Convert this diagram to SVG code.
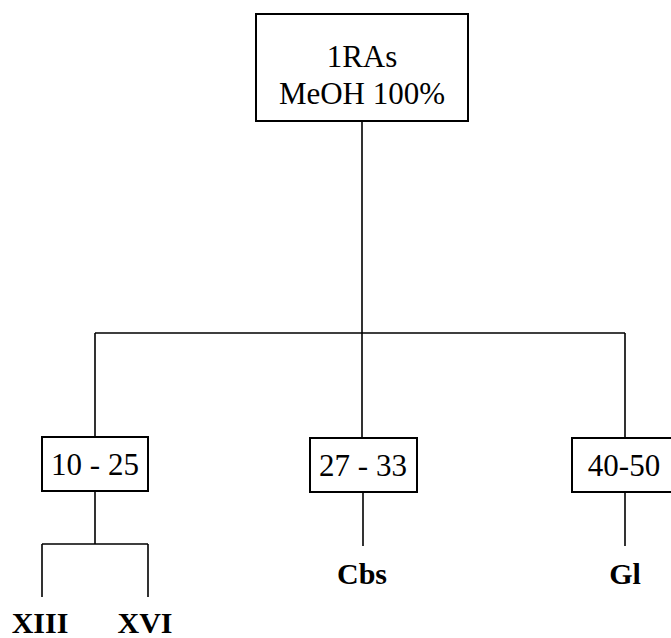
<svg xmlns="http://www.w3.org/2000/svg" width="671" height="638" viewBox="0 0 671 638">
<style>
.box{fill:#fff;stroke:#000;stroke-width:2}
.ln{fill:none;stroke:#000;stroke-width:1.6}
text{font-family:'Liberation Serif','Times New Roman',serif;font-size:31px;fill:#000;text-anchor:middle}
.b{font-weight:bold;font-size:30px}
</style>
<rect width="671" height="638" fill="#fff"/>
<g id="connectors">
<path class="ln" d="M362 121V333M95 333H625M95 333V437M362 333V438M625 333V438"/>
<path class="ln" d="M95 491V544M42 544H148M42 544V597M148 544V597"/>
<path class="ln" d="M363 492V546"/>
<path class="ln" d="M625 492V546"/>
</g>
<g id="root">
<rect class="box" x="256" y="14" width="212" height="107"/>
<text x="362" y="67">1RAs</text>
<text x="362" y="104">MeOH 100%</text>
</g>
<g id="f10-25">
<rect class="box" x="42" y="437" width="106" height="54"/>
<text x="95" y="475">10 - 25</text>
</g>
<g id="f27-33">
<rect class="box" x="310" y="438" width="107" height="54"/>
<text x="363" y="476">27 - 33</text>
</g>
<g id="f40-50">
<rect class="box" x="572" y="438" width="106" height="54"/>
<text x="624" y="476">40-50</text>
</g>
<g id="XIII"><text class="b" x="40" y="633">XIII</text></g>
<g id="XVI"><text class="b" x="145" y="633">XVI</text></g>
<g id="Cbs"><text class="b" x="362" y="584">Cbs</text></g>
<g id="Gl"><text class="b" x="625" y="584">Gl</text></g>
</svg>
